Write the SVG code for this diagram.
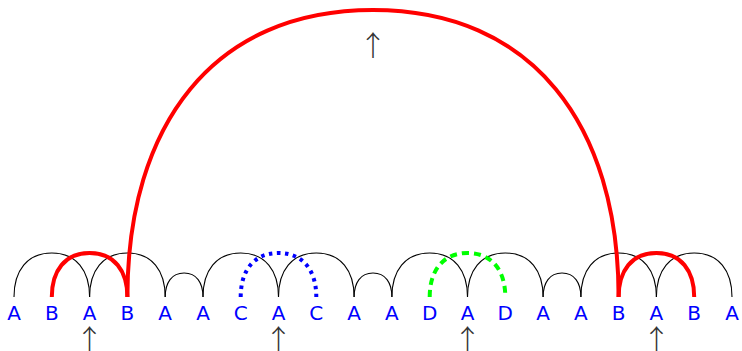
<svg xmlns="http://www.w3.org/2000/svg" width="742" height="351" viewBox="0 0 742 351">
<style>
.lbl{font-family:"DejaVu Sans",sans-serif;font-size:20px;fill:#0000ff;text-anchor:middle}
.arw{font-family:"Noto Sans CJK JP","DejaVu Sans",sans-serif;font-size:28px;font-weight:300;fill:#333333;text-anchor:middle}
.blk{fill:none;stroke:#000;stroke-width:1.1}
.red{fill:none;stroke:#ff0000;stroke-width:4}
.blu{fill:none;stroke:#0000ff;stroke-width:4;stroke-dasharray:3.5 4.5}
.grn{fill:none;stroke:#00ff00;stroke-width:4;stroke-dasharray:7 5}
</style>
<rect width="742" height="351" fill="#fff"/>
<g id="connectors">
<path class="blk" d="M14 297C14 270.6 27.2 253 51.8 253C76.4 253 89.6 270.6 89.6 297"/>
<path class="blk" d="M89.6 297C89.6 270.6 102.8 253 127.4 253C152 253 165.2 270.6 165.2 297"/>
<path class="blk" d="M165.2 297C165.2 282.6 171.8 273 184.1 273C196.4 273 203 282.6 203 297"/>
<path class="blk" d="M203 297C203 270.6 216.1 253 240.7 253C265.3 253 278.5 270.6 278.5 297"/>
<path class="blk" d="M278.5 297C278.5 270.6 291.7 253 316.3 253C340.9 253 354.1 270.6 354.1 297"/>
<path class="blk" d="M354.1 297C354.1 282.6 360.7 273 373 273C385.3 273 391.9 282.6 391.9 297"/>
<path class="blk" d="M391.9 297C391.9 270.6 405.1 253 429.7 253C454.3 253 467.5 270.6 467.5 297"/>
<path class="blk" d="M467.5 297C467.5 270.6 480.7 253 505.3 253C529.9 253 543.1 270.6 543.1 297"/>
<path class="blk" d="M543.1 297C543.1 282.6 549.7 273 562 273C574.3 273 580.9 282.6 580.9 297"/>
<path class="blk" d="M580.9 297C580.9 270.6 594 253 618.6 253C643.2 253 656.4 270.6 656.4 297"/>
<path class="blk" d="M656.4 297C656.4 270.6 669.6 253 694.2 253C718.8 253 732 270.6 732 297"/>
<path class="red" d="M51.8 297C51.8 270.6 65 253 89.6 253C114.2 253 127.4 270.6 127.4 297"/>
<path class="red" d="M618.6 297C618.6 270.6 631.8 253 656.4 253C681 253 694.2 270.6 694.2 297"/>
<path class="red" d="M127.4 297C127.4 124.8 213.4 10 373 10C532.6 10 618.6 124.8 618.6 297"/>
<path class="blu" d="M240.7 297C240.7 270.6 253.9 253 278.5 253C303.1 253 316.3 270.6 316.3 297"/>
<path class="grn" d="M429.7 297C429.7 270.6 442.9 253 467.5 253C492.1 253 505.3 270.6 505.3 297"/>
</g>
<g id="labels">
<text class="lbl" x="14" y="320">A</text>
<text class="lbl" x="51.8" y="320">B</text>
<text class="lbl" x="89.6" y="320">A</text>
<text class="lbl" x="127.4" y="320">B</text>
<text class="lbl" x="165.2" y="320">A</text>
<text class="lbl" x="203" y="320">A</text>
<text class="lbl" x="240.7" y="320">C</text>
<text class="lbl" x="278.5" y="320">A</text>
<text class="lbl" x="316.3" y="320">C</text>
<text class="lbl" x="354.1" y="320">A</text>
<text class="lbl" x="391.9" y="320">A</text>
<text class="lbl" x="429.7" y="320">D</text>
<text class="lbl" x="467.5" y="320">A</text>
<text class="lbl" x="505.3" y="320">D</text>
<text class="lbl" x="543.1" y="320">A</text>
<text class="lbl" x="580.9" y="320">A</text>
<text class="lbl" x="618.6" y="320">B</text>
<text class="lbl" x="656.4" y="320">A</text>
<text class="lbl" x="694.2" y="320">B</text>
<text class="lbl" x="732" y="320">A</text>
</g>
<g id="arrows">
<text class="arw" x="89.6" y="349.5">↑</text>
<text class="arw" x="278.5" y="349.5">↑</text>
<text class="arw" x="467.5" y="349.5">↑</text>
<text class="arw" x="656.4" y="349.5">↑</text>
<text class="arw" x="373" y="56">↑</text>
</g>
</svg>
